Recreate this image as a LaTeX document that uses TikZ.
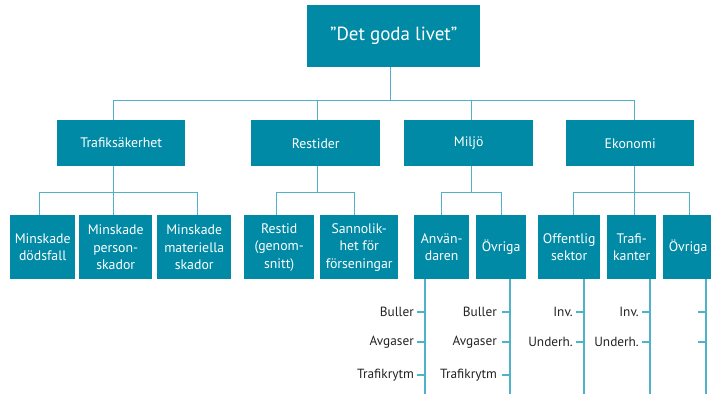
\documentclass[tikz,border=0pt]{standalone}
\usepackage{fontspec}
\setmainfont{PT Sans}
\definecolor{boxc}{RGB}{0,138,165}
\definecolor{linec}{RGB}{80,178,200}
\definecolor{labc}{RGB}{35,35,35}
\begin{document}
\begin{tikzpicture}[x=1pt,y=-1pt,
  box/.style={fill=boxc,text=white,inner sep=0pt,align=center,anchor=north west,
    font=\fontsize{13.8}{17.5}\selectfont},
  conn/.style={draw=linec,line width=1.3pt},
  lab/.style={text=labc,anchor=east,inner sep=0pt,font=\fontsize{13.3}{14}\selectfont}]
\useasboundingbox (0,0) rectangle (711,393);

% top
\node[box,minimum width=173pt,minimum height=62pt,font=\fontsize{19}{21}\selectfont] (top) at (307,5) {”Det goda livet”};

% second level
\node[box,minimum width=128pt,minimum height=46pt] (traf) at (57,120) {Trafiksäkerhet};
\node[box,minimum width=129pt,minimum height=46pt] (rest) at (251,120) {Restider};
\node[box,minimum width=129pt,minimum height=46pt] (milj) at (404,120) {Miljö};
\node[box,minimum width=128pt,minimum height=46pt] (ekon) at (566,120) {Ekonomi};

% third level
\node[box,minimum width=65pt,minimum height=64pt] (md) at (10,215) {Minskade\\dödsfall};
\node[box,minimum width=73pt,minimum height=64pt] (mp) at (79,215) {Minskade\\person-\\skador};
\node[box,minimum width=74pt,minimum height=64pt] (mm) at (157,215) {Minskade\\materiella\\skador};
\node[box,minimum width=70pt,minimum height=64pt] (rt) at (244,215) {Restid\\(genom-\\snitt)};
\node[box,minimum width=78pt,minimum height=64pt] (sf) at (320,215) {Sannolik-\\het för\\förseningar};
\node[box,minimum width=55pt,minimum height=64pt] (an) at (414,215) {Använ-\\daren};
\node[box,minimum width=50pt,minimum height=64pt] (ov1) at (476,215) {Övriga};
\node[box,minimum width=62pt,minimum height=64pt] (of) at (538,215) {Offentlig\\sektor};
\node[box,minimum width=49pt,minimum height=64pt] (tk) at (607,215) {Trafi-\\kanter};
\node[box,minimum width=50pt,minimum height=64pt] (ov2) at (663,215) {Övriga};

% top bus
\draw[conn] ([xshift=-3]top.south) -- ++(0,33) coordinate (bus);
\draw[conn] ([xshift=-8]traf.north |- bus) -- ([xshift=4]ekon.north |- bus);
\draw[conn] ([xshift=-8]traf.north |- bus) -- ([xshift=-8]traf.north);
\draw[conn] ([xshift=1.5]rest.north |- bus) -- ([xshift=1.5]rest.north);
\draw[conn] ([xshift=2.5]milj.north |- bus) -- ([xshift=2.5]milj.north);
\draw[conn] ([xshift=4]ekon.north |- bus) -- ([xshift=4]ekon.north);

% Trafiksäkerhet branch
\draw[conn] ([xshift=-8]traf.south) -- ++(0,26) coordinate (b1);
\draw[conn] ([xshift=-3.5]md.north |- b1) -- ([xshift=3]mm.north |- b1);
\draw[conn] ([xshift=-3.5]md.north |- b1) -- ([xshift=-3.5]md.north);
\draw[conn] (b1) -- (b1 |- mp.north);
\draw[conn] ([xshift=3]mm.north |- b1) -- ([xshift=3]mm.north);

% Restider branch
\draw[conn] ([xshift=1.5]rest.south) -- ++(0,26) coordinate (b2);
\draw[conn] ([xshift=-3]rt.north |- b2) -- ([xshift=-5]sf.north |- b2);
\draw[conn] ([xshift=-3]rt.north |- b2) -- ([xshift=-3]rt.north);
\draw[conn] ([xshift=-5]sf.north |- b2) -- ([xshift=-5]sf.north);

% Miljö branch
\draw[conn] ([xshift=2.5]milj.south) -- ++(0,26) coordinate (b3);
\draw[conn] (an.north |- b3) -- (ov1.north |- b3);
\draw[conn] (an.north |- b3) -- (an.north);
\draw[conn] (ov1.north |- b3) -- (ov1.north);

% Ekonomi branch
\draw[conn] ([xshift=4]ekon.south) -- ++(0,26) coordinate (b4);
\draw[conn] ([xshift=4]of.north |- b4) -- ([xshift=1]ov2.north |- b4);
\draw[conn] ([xshift=4]of.north |- b4) -- ([xshift=4]of.north);
\draw[conn] (b4) -- (b4 |- tk.north);
\draw[conn] ([xshift=1]ov2.north |- b4) -- ([xshift=1]ov2.north);

% spines below the bottom boxes
\draw[conn] ([xshift=11]an.south west) -- ++(0,116) coordinate (s1);
\draw[conn] ([xshift=34]ov1.south west) -- ++(0,116) coordinate (s2);
\draw[conn] ([xshift=46]of.south west) -- ++(0,116) coordinate (s3);
\draw[conn] ([xshift=43]tk.south west) -- ++(0,116) coordinate (s4);
\draw[conn] ([xshift=43]ov2.south west) -- ++(0,116) coordinate (s5);

% ticks and their labels
\foreach \s/\g in {s1/3,s2/5}{
  \foreach \yy/\t in {312/Buller,342/Avgaser,375/Trafikrytm}{
    \draw[conn] (\s |- 0,\yy) -- ++(-8,0) coordinate (tk\s\yy);
    \node[lab] at ([xshift=-\g]tk\s\yy) {\t};
  }
}
\foreach \s in {s3,s4}{
  \foreach \yy/\t in {312/Inv.,342/Underh.}{
    \draw[conn] (\s |- 0,\yy) -- ++(-8,0) coordinate (tk\s\yy);
    \node[lab] at ([xshift=-3]tk\s\yy) {\t};
  }
}
\foreach \yy in {312,342}{
  \draw[conn] (s5 |- 0,\yy) -- ++(-8,0);
}
\end{tikzpicture}
\end{document}
